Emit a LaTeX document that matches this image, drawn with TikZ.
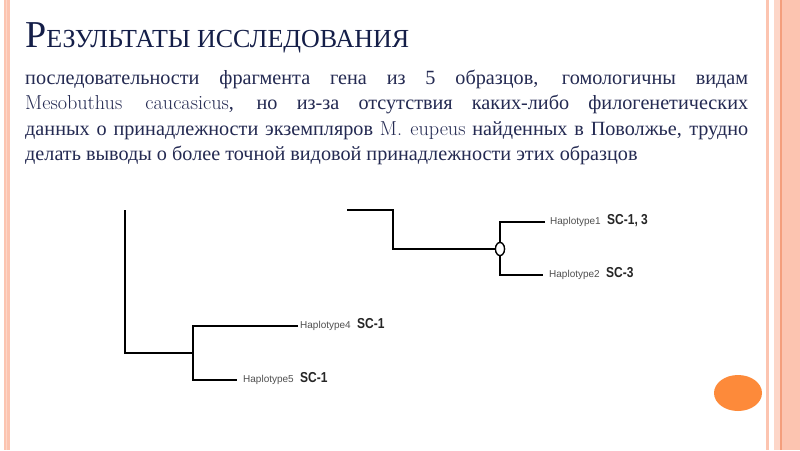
\documentclass[tikz,border=0pt]{standalone}
\usepackage{fontspec}
\usepackage{graphicx}
\newfontfamily\serifru{Liberation Serif}
\newfontfamily\sansarial{Liberation Sans}
\usetikzlibrary{shapes.geometric, positioning}
\definecolor{cTitle}{RGB}{20,30,72}
\definecolor{cText}{RGB}{36,42,82}
\definecolor{cSalmon}{RGB}{252,196,176}
\definecolor{cSalmonLt}{RGB}{253,214,200}
\definecolor{cSalmonDk}{RGB}{244,158,124}
\definecolor{cOrange}{RGB}{253,138,58}
\definecolor{cHap}{RGB}{80,80,80}
\tikzset{
	branch/.style   ={line width=2.4pt, black, line join=miter},
	node12/.style   ={ellipse, draw=black, line width=1.3pt, fill=white, minimum width=9pt, minimum height=13pt, inner sep=0pt},
	haplo/.style    ={inner sep=1pt, font=\sansarial\fontsize{10}{12}\selectfont, text=cHap},
	sclabel/.style  ={inner sep=0pt, font=\sansarial\bfseries\fontsize{12}{14}\selectfont, text=black!85},
}
\newcommand{\tall}[1]{\scalebox{1}[1.2]{#1}}

\begin{document}
\begin{tikzpicture}[x=1pt, y=-1pt]
	\useasboundingbox (0,0) rectangle (800,450);
	\fill[white] (0,0) rectangle (800,450);
	% slide frame
	\fill[cSalmon] (4,0) rectangle (9.5,450);
	\fill[cSalmonLt] (6.2,0) rectangle (7.3,450);
	\fill[cSalmon] (766,0) rectangle (768.5,450);
	\fill[cSalmonLt] (773.5,0) rectangle (780,450);
	\fill[cSalmon] (780,0) rectangle (800,450);
	\fill[cSalmonDk] (780,0) rectangle (781.8,450);
	\fill[cOrange] (738,393) ellipse [x radius=24, y radius=18];

	% heading and text
	\node[anchor=base west, inner sep=0pt, text=cTitle] (title) at (25,47)
		{\serifru\fontsize{38}{38}\selectfont Р\fontsize{26}{26}\selectfont ЕЗУЛЬТАТЫ ИССЛЕДОВАНИЯ};
	\node[anchor=north west, inner sep=0pt, text width=723pt, align=justify, text=cText,
		font=\serifru\fontsize{20.2}{25.5}\selectfont] (body) at (25,69.5)
		{\hyphenpenalty=10000 последовательности фрагмента гена из 5 образцов, гомологичны видам\linebreak
		{\rmfamily Mesobuthus caucasicus}, но из-за отсутствия каких-либо филогенетических\linebreak
		данных о принадлежности экземпляров {\rmfamily M. eupeus} найденных в Поволжье, трудно\linebreak
		делать выводы о более точной видовой принадлежности этих образцов};

	% tree
	\coordinate (root) at (125,210);
	\coordinate (n45) at (193,353);
	\coordinate (h4end) at (298,326);
	\coordinate (h5end) at (237,380);
	\coordinate (top) at (347,210);
	\coordinate (bend) at (393,249);
	\node[node12] (n12) at (500,249) {};
	\coordinate (h1end) at (545,222);
	\coordinate (h2end) at (543,275);

	\draw[branch] (root) |- (n45);
	\draw[branch] (h4end) -| (n45) |- (h5end);
	\draw[branch] (top) -| (bend) -- (n12);
	\draw[branch] (h1end) -| (n12) |- (h2end);
	\node[node12] at (n12) {};

	\node[haplo, right=1pt of h4end] (hap4) {Haplotype4};
	\node[sclabel, base right=5pt of hap4] (sc4) {\tall{SC-1}};
	\node[haplo, right=5pt of h5end] (hap5) {Haplotype5};
	\node[sclabel, base right=5pt of hap5] (sc5) {\tall{SC-1}};
	\node[haplo, right=4pt of h1end] (hap1) {Haplotype1};
	\node[sclabel, base right=5pt of hap1] (sc1) {\tall{SC-1, 3}};
	\node[haplo, right=5pt of h2end] (hap2) {Haplotype2};
	\node[sclabel, base right=5pt of hap2] (sc2) {\tall{SC-3}};
\end{tikzpicture}
\end{document}
